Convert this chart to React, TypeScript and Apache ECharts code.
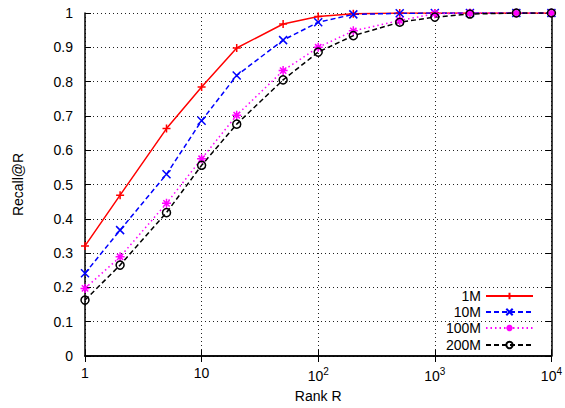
import React, { useEffect, useRef } from "react";
import * as echarts from "echarts";

const ranks = [1, 2, 5, 10, 20, 50, 100, 200, 500, 1000, 2000, 5000, 10000];
const r1M = [0.321, 0.469, 0.663, 0.784, 0.898, 0.968, 0.99, 0.998, 1, 1, 1, 1, 1];
const r10M = [0.241, 0.367, 0.53, 0.686, 0.818, 0.921, 0.973, 0.996, 0.999, 1, 1, 1, 1];
const r100M = [0.197, 0.289, 0.445, 0.575, 0.702, 0.832, 0.9, 0.948, 0.978, 0.998, 1, 1, 1];
const r200M = [0.163, 0.265, 0.418, 0.556, 0.676, 0.805, 0.886, 0.934, 0.973, 0.988, 0.997, 1, 1];
const seriesNames = ["1M", "10M", "100M", "200M"];
const yTicks = [0, 0.1, 0.2, 0.3, 0.4, 0.5, 0.6, 0.7, 0.8, 0.9, 1];

const FONT = "Liberation Sans";

const PLUS = "path://M5,0L5,10M0,5L10,5";
const CROSS = "path://M0,0L10,10M10,0L0,10";
const STAR = "path://M5,0L5,10M0,5L10,5M1.5,1.5L8.5,8.5M8.5,1.5L1.5,8.5";

export default function App() {
  const ref = useRef<HTMLDivElement>(null);
  useEffect(() => {
    document.body.style.margin = "0";
    const chart = echarts.init(ref.current!, null, { renderer: "svg" });
    const mk = (name: string, vals: number[], color: string, lineType: any, symbol: string, size: number) => ({
      name,
      type: "line",
      data: ranks.map((r, i) => [r, vals[i]]),
      symbol,
      symbolSize: size,
      showSymbol: true,
      lineStyle: { color, width: 1.5, type: lineType },
      itemStyle: { color: "none", borderColor: color, borderWidth: 1.5 },
      emphasis: { disabled: true },
      z: 3,
    });
    const series = [
      mk("1M", r1M, "#ff0000", "solid", PLUS, 8),
      mk("10M", r10M, "#0000ff", [5, 3], CROSS, 8),
      mk("100M", r100M, "#ff00ff", [1.5, 3], STAR, 9),
      mk("200M", r200M, "#000000", [5, 3], "circle", 8),
    ];
    const rowCenters = [292, 308, 324, 341];
    const legends = seriesNames.map((n, i) => ({
      data: [n],
      right: 26,
      top: rowCenters[i] - 8,
      orient: "vertical",
      align: "right",
      itemWidth: 47,
      itemHeight: 8,
      selectedMode: false,
      textStyle: { fontSize: 14, color: "#000", fontFamily: FONT },
    }));
    const xFmt = (v: number) => {
      const e = Math.round(Math.log10(v));
      if (e === 0) return "1";
      if (e === 1) return "10";
      return "10{sup|" + e + "}";
    };
    chart.setOption({
      animation: false,
      grid: { left: 85, right: 9, top: 13, bottom: 52 },
      legend: legends,
      xAxis: [
        {
          type: "log",
          logBase: 10,
          min: 1,
          max: 10000,
          name: "Rank R",
          nameLocation: "middle",
          nameGap: 33,
          nameTextStyle: { fontSize: 14, color: "#000", fontFamily: FONT },
          axisLine: { lineStyle: { color: "#000", width: 1.5 } },
          axisTick: { inside: true, length: 6, lineStyle: { color: "#000", width: 1 } },
          minorTick: { show: false },
          axisLabel: {
            color: "#000",
            fontSize: 14,
            fontFamily: FONT,
            margin: 10,
            formatter: xFmt,
            rich: { sup: { fontSize: 10, fontFamily: FONT, color: "#000", padding: [0, 0, 10, 0] } },
          },
          splitLine: { show: true, lineStyle: { color: "#222", width: 1, type: [1, 3] } },
        },
        {
          type: "log",
          logBase: 10,
          min: 1,
          max: 10000,
          position: "top",
          axisLine: { lineStyle: { color: "#000", width: 1.5 } },
          axisTick: { inside: true, length: 6, lineStyle: { color: "#000", width: 1 } },
          axisLabel: { show: false },
          splitLine: { show: false },
        },
      ],
      yAxis: [
        {
          type: "value",
          min: 0,
          max: 1,
          interval: 0.1,
          name: "Recall@R",
          nameLocation: "middle",
          nameGap: 60,
          nameTextStyle: { fontSize: 14, color: "#000", fontFamily: FONT },
          axisLine: { show: true, lineStyle: { color: "#000", width: 1.5 } },
          axisTick: { show: true, inside: true, length: 6, lineStyle: { color: "#000", width: 1 } },
          axisLabel: {
            color: "#000",
            fontSize: 14,
            fontFamily: FONT,
            margin: 12,
            formatter: (v: number) => {
              const t = yTicks.find((y) => Math.abs(y - v) < 1e-6);
              return t === undefined ? "" : String(t);
            },
          },
          splitLine: { show: true, lineStyle: { color: "#222", width: 1, type: [1, 3] } },
        },
        {
          type: "value",
          min: 0,
          max: 1,
          interval: 0.1,
          position: "right",
          axisLine: { show: true, lineStyle: { color: "#000", width: 1.5 } },
          axisTick: { show: true, inside: true, length: 6, lineStyle: { color: "#000", width: 1 } },
          axisLabel: { show: false },
          splitLine: { show: false },
        },
      ],
      series,
    });
    return () => chart.dispose();
  }, []);
  return <div ref={ref} style={{ position: "absolute", left: 0, top: 0, width: 565, height: 408 }} />;
}
